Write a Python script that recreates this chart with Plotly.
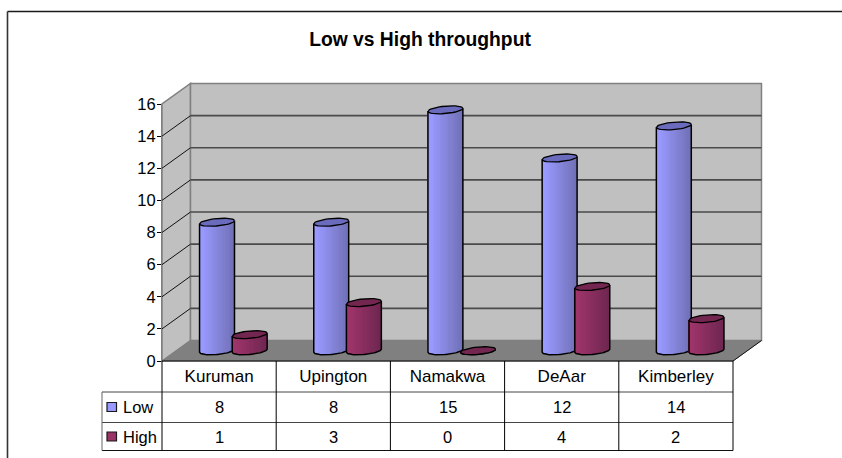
import numpy as np
import plotly.graph_objects as go

# Chart data
categories = ["Kuruman", "Upington", "Namakwa", "DeAar", "Kimberley"]
low_values = [8, 8, 15, 12, 14]
high_values = [1, 3, 0, 4, 2]
series_names = ["Low", "High"]
y_ticks = [0, 2, 4, 6, 8, 10, 12, 14, 16]
chart_title = "Low vs High throughput"

FONT = "Liberation Sans, Arial, sans-serif"
FS = 16.5
FS_CAT = 17
W, H = 842, 458
L, R, T, B = 162, 733, 104, 361      # front plane of the plot, in page pixels
PX_X = (R - L) / len(categories)     # pixels per category
PX_Y = (B - T) / 16                  # pixels per value unit

# Depth of the box, expressed in axis units
BOX_DX, BOX_DY = 28.5 / PX_X, 20.5 / PX_Y
# Columns stand halfway into the box
MID_DX, MID_DY = BOX_DX / 2, BOX_DY / 2

COL_W = 0.306     # column width in category units
COL_OFFSET = 0.143
RY, TILT = 3.7 / PX_Y, 1.5 / PX_Y   # cap ellipse height and skew
N_STRIPS = 20


def cap(cx, level, n=40):
    """Outline of a column's skewed elliptical cap around a centre and level."""
    t = np.linspace(0, 2 * np.pi, n)
    return cx + COL_W / 2 * np.cos(t), level + RY * np.sin(t) + TILT * np.cos(t)


def shade(light, dark, f):
    return "rgb(%d,%d,%d)" % tuple(round(a + (b - a) * f) for a, b in zip(light, dark))


def col_traces(values, side, light, dark, cap_color, xa, ya):
    """Shaded strips, silhouette and cap for every column of one series."""
    traces = []
    edges = np.linspace(-1, 1, N_STRIPS + 1)
    mids = (edges[:-1] + edges[1:]) / 2
    sw = COL_W / N_STRIPS
    xs, bases, heights, colors = [], [], [], []
    for i, v in enumerate(values):
        cx = i + 0.5 + side * COL_OFFSET + MID_DX
        for m in mids:
            rim = np.sqrt(1 - m * m)
            low_edge = MID_DY - RY * rim + TILT * m
            top_edge = MID_DY + v + TILT * m
            xs.append(float(cx + m * COL_W / 2))
            bases.append(float(low_edge))
            heights.append(float(top_edge - low_edge))
            colors.append(shade(light, dark, float(np.clip((m + 0.8) / 1.8, 0, 1))))
    traces.append(go.Bar(x=xs, y=heights, base=bases, width=sw * 1.1, xaxis=xa, yaxis=ya,
                         marker=dict(color=colors, line=dict(width=0)),
                         cliponaxis=False, showlegend=False, hoverinfo="skip"))
    for i, v in enumerate(values):
        cx = i + 0.5 + side * COL_OFFSET + MID_DX
        m = np.linspace(1, -1, 30)
        bx = cx + m * COL_W / 2
        by = MID_DY - RY * np.sqrt(1 - m * m) + TILT * m
        sx = np.r_[cx + COL_W / 2, bx, cx - COL_W / 2]
        sy = np.r_[MID_DY + v + TILT, by, MID_DY + v - TILT]
        traces.append(go.Scatter(x=sx, y=sy, mode="lines", xaxis=xa, yaxis=ya,
                                 line=dict(color="#000000", width=1.5),
                                 cliponaxis=False, showlegend=False, hoverinfo="skip"))
        ex, ey = cap(cx, MID_DY + v)
        traces.append(go.Scatter(x=ex, y=ey, mode="lines", fill="toself", fillcolor=cap_color,
                                 xaxis=xa, yaxis=ya,
                                 line=dict(color="#000000", width=1.3),
                                 cliponaxis=False, showlegend=False, hoverinfo="skip"))
    return traces


n = len(categories)
top = y_ticks[-1]
fig = go.Figure()

# Columns; the High series lives on an overlaid axis pair so it paints over Low
for tr in col_traces(low_values, -1, (153, 153, 255), (112, 112, 182), "#6B6BBD", "x", "y"):
    fig.add_trace(tr)
for tr in col_traces(high_values, 1, (158, 52, 106), (110, 38, 80), "#732650", "x2", "y2"):
    fig.add_trace(tr)


# Paper fractions for a category position / value on the front plane
def fx(c):
    return c / n


def fy(v):
    return v / top


def px(x):
    return (x - L) / (R - L)


def py(y):
    return (B - y) / (B - T)


shapes = []


def poly(points, fill, edge, width=1.0):
    d = "M" + " L".join("%.5f,%.5f" % (fx(c), fy(v)) for c, v in points) + " Z"
    shapes.append(dict(type="path", xref="paper", yref="paper", path=d, fillcolor=fill,
                       line=dict(color=edge, width=width), layer="below"))


def seg(c0, v0, c1, v1, color, width):
    shapes.append(dict(type="line", xref="paper", yref="paper",
                       x0=fx(c0), y0=fy(v0), x1=fx(c1), y1=fy(v1),
                       line=dict(color=color, width=width), layer="below"))


def rule(x0, y0, x1, y1, color="#000000", width=1):
    shapes.append(dict(type="line", xref="paper", yref="paper",
                       x0=px(x0), y0=py(y0), x1=px(x1), y1=py(y1),
                       line=dict(color=color, width=width), layer="above"))


# Walls and floor of the box
poly([(0, 0), (BOX_DX, BOX_DY), (BOX_DX, top + BOX_DY), (0, top)], "#C0C0C0", "#808080", 1.5)
poly([(BOX_DX, BOX_DY), (n + BOX_DX, BOX_DY), (n + BOX_DX, top + BOX_DY), (BOX_DX, top + BOX_DY)],
     "#C0C0C0", "#808080", 1.5)
# Gridlines: slanted on the side wall, flat on the back wall
for v in y_ticks[1:-1]:
    seg(0, v, BOX_DX, v + BOX_DY, "#111111", 1)
    seg(BOX_DX, v + BOX_DY, n + BOX_DX, v + BOX_DY, "#4A4A4A", 1.6)
poly([(0, 0), (n, 0), (n + BOX_DX, BOX_DY), (BOX_DX, BOX_DY)], "#808080", "#808080", 1)
seg(n, 0, n + BOX_DX, BOX_DY, "#111111", 1)

# Outer chart frame, open at the right and bottom page edges
rule(7.5, 11.5, W + 2, 11.5, "#1A1A1A", 1.6)
rule(7.5, 11.5, 7.5, H + 2, "#333333", 1.6)

# Data table rules
ROWS = [392, 422.5, 450.5]
for y, col in zip(ROWS, ("#444444", "#444444", "#111111")):
    rule(102, y, R, y, col, 1)
rule(L, 361, R, 361, "#000000", 1)
rule(102, ROWS[0], 102, ROWS[2], "#666666", 1)
for i in range(n + 1):
    x = L + i * PX_X
    rule(x, 361, x, ROWS[2], "#000000", 1)

annotations = []
ROW_Y = (407, 436.5)
KEY_COLORS = ("#9999FF", "#993366")
for row_y, row in zip(ROW_Y, (low_values, high_values)):
    for i, v in enumerate(row):
        annotations.append(dict(text=str(v), xref="x", yref="paper", x=i + 0.5, y=py(row_y),
                                showarrow=False, xanchor="center", yanchor="middle",
                                font=dict(family=FONT, size=FS, color="#000000")))

# Series keys in the first table column
for row_y, name, color in zip(ROW_Y, series_names, KEY_COLORS):
    shapes.append(dict(type="rect", xref="paper", yref="paper",
                       x0=px(107), x1=px(116.5), y0=py(row_y + 4.5), y1=py(row_y - 4.5),
                       fillcolor=color, line=dict(color="#1A1A1A", width=1.2), layer="above"))
    annotations.append(dict(text=name, xref="paper", yref="paper", x=px(120.5), y=py(row_y),
                            showarrow=False, xanchor="left", yanchor="middle",
                            font=dict(family=FONT, size=FS, color="#000000")))

fig.update_layout(
    width=W, height=H, autosize=False,
    margin=dict(l=L, r=W - R, t=T, b=H - B, pad=0),
    paper_bgcolor="#FFFFFF", plot_bgcolor="rgba(0,0,0,0)",
    font=dict(family=FONT, size=FS, color="#000000"),
    title=dict(text="<b>%s</b>" % chart_title, x=420 / W, xanchor="center",
               y=1 - 39 / H, yanchor="middle", font=dict(family=FONT, size=19.3, color="#000000")),
    barmode="overlay", bargap=0,
    showlegend=False,
    xaxis=dict(range=[0, n], tickmode="array", tickvals=[i + 0.5 for i in range(n)],
               ticktext=categories, ticks="", showgrid=False, zeroline=False, showline=False,
               ticklabelstandoff=3, tickfont=dict(family=FONT, size=FS_CAT), fixedrange=True),
    yaxis=dict(range=[0, top], tickmode="array", tickvals=y_ticks, ticks="outside", ticklen=4,
               tickcolor="#000000", showgrid=False, zeroline=False, showline=True,
               linecolor="#808080", linewidth=1, tickfont=dict(family=FONT, size=FS),
               ticklabelstandoff=-2, fixedrange=True),
    xaxis2=dict(range=[0, n], overlaying="x", visible=False, fixedrange=True),
    yaxis2=dict(range=[0, top], overlaying="y", visible=False, fixedrange=True),
    shapes=shapes,
    annotations=annotations,
)

fig.write_html("out.html", config=dict(displayModeBar=False))
